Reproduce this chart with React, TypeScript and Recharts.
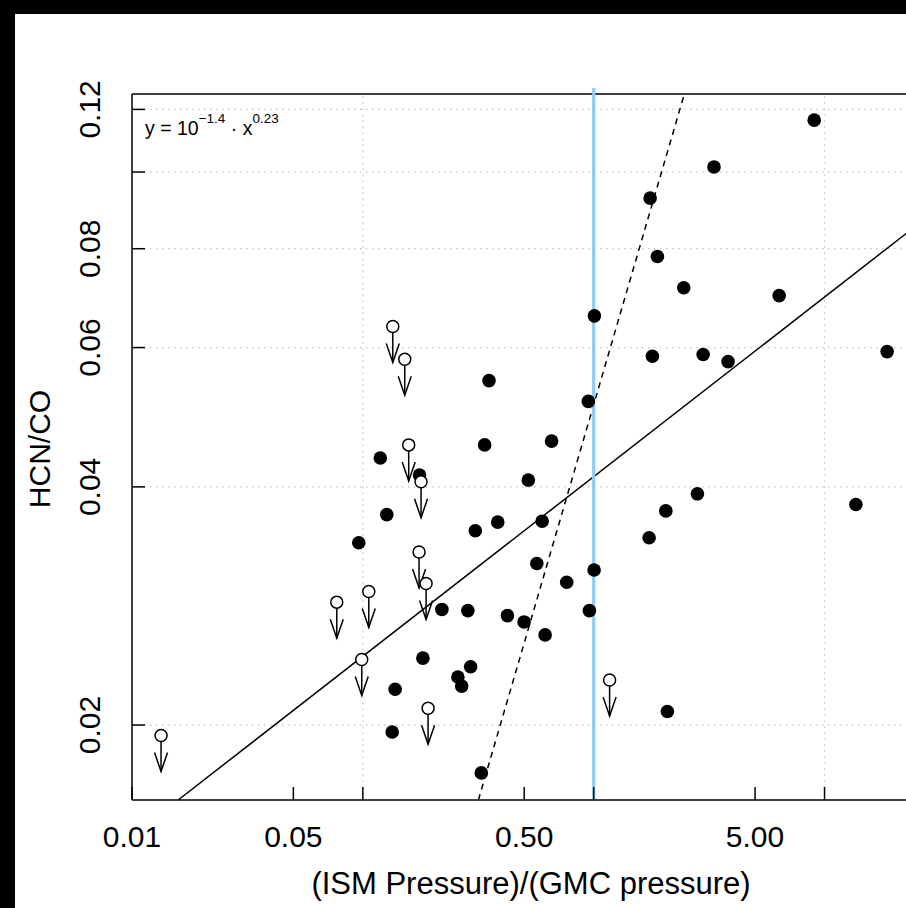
import React from 'react';
import { ScatterChart, Scatter, XAxis, YAxis, ReferenceLine } from 'recharts';

// Detected sources (filled points)
const detectedX = [9.02, 3.32, 1.756, 1.888, 2.455, 6.36, 1.007, 1.796, 2.979, 3.82, 18.67, 0.352, 0.948, 0.657, 0.337, 0.119, 0.176, 0.521, 2.814, 13.67, 0.127, 2.053, 0.384, 0.598, 0.307, 0.096, 1.738, 0.567, 1.004, 0.764, 0.22, 0.285, 0.958, 0.423, 0.4995, 0.616, 0.182, 0.293, 0.258, 0.268, 0.138, 2.086, 0.134, 0.326];
const detectedY = [0.1163, 0.1015, 0.0927, 0.0782, 0.0714, 0.0698, 0.0658, 0.0585, 0.0588, 0.0576, 0.0593, 0.0545, 0.0513, 0.0457, 0.0452, 0.0435, 0.0414, 0.0408, 0.0392, 0.038, 0.0369, 0.0373, 0.0361, 0.0362, 0.0352, 0.034, 0.0345, 0.032, 0.0314, 0.0303, 0.028, 0.0279, 0.0279, 0.0275, 0.027, 0.026, 0.0243, 0.0237, 0.023, 0.0224, 0.0222, 0.0208, 0.0196, 0.0174];

// Upper limits (open circles with arrows)
const limitX = [0.01336, 0.1348, 0.1519, 0.158, 0.1787, 0.1752, 0.1879, 0.0771, 0.1061, 0.0989, 0.1917, 1.172];
const limitY = [0.0194, 0.0638, 0.058, 0.0452, 0.0406, 0.0331, 0.0302, 0.0286, 0.0295, 0.0242, 0.021, 0.0228];

// Fitted power law (solid) and linear relation (dashed)
const fitLine = [
  { x: 0.01585, y: 0.01608 },
  { x: 24.9, y: 0.0855 },
];
const linearLine = [
  { x: 0.3166, y: 0.01608 },
  { x: 2.47, y: 0.1255 },
];

const xDomain = [0.01, 24.9];
const yDomain = [0.01608, 0.1255];
const xTicks = [0.01, 0.05, 0.1, 0.5, 1, 5, 10];
const xLabelled = [0.01, 0.05, 0.5, 5];
const yTicks = [0.02, 0.04, 0.06, 0.08, 0.1, 0.12];
const yLabelled = [0.02, 0.04, 0.06, 0.08, 0.12];
const gridX = [0.1, 1, 10];
const gridY = [0.02, 0.04, 0.06, 0.08, 0.1, 0.12];
const thresholdX = 1;

const detected = detectedX.map((x, i) => ({ x, y: detectedY[i] }));
const limits = limitX.map((x, i) => ({ x, y: limitY[i] }));

const FONT = '"Liberation Sans", Arial, Helvetica, sans-serif';
const TOP_BLACK = 14;
const LEFT_BLACK = 15;

const XTick = (props: any) => {
  const { x, y, payload } = props;
  const v = payload.value;
  const lab = xLabelled.includes(v) ? v.toFixed(2) : '';
  return (
    <g>
      <line x1={x} y1={y} x2={x} y2={y - 13} stroke="#000" strokeWidth={1.5} />
      {lab && (
        <text x={x} y={y + 47} textAnchor="middle" fontSize={30} fontFamily={FONT} fill="#000">
          {lab}
        </text>
      )}
    </g>
  );
};

const YTick = (props: any) => {
  const { x, y, payload } = props;
  const v = payload.value;
  const lab = yLabelled.includes(v) ? v.toFixed(2) : '';
  const tx = x - 32;
  return (
    <g>
      <line x1={x} y1={y} x2={x + 13} y2={y} stroke="#000" strokeWidth={1.5} />
      {lab && (
        <text
          x={tx}
          y={y}
          transform={`rotate(-90 ${tx} ${y})`}
          textAnchor="middle"
          fontSize={30}
          fontFamily={FONT}
          fill="#000"
        >
          {lab}
        </text>
      )}
    </g>
  );
};

const FilledDot = (props: any) => {
  const { cx, cy } = props;
  if (cx == null || cy == null) return <g />;
  return <circle cx={cx} cy={cy} r={6.8} fill="#000" />;
};

const LimitDot = (props: any) => {
  const { cx, cy } = props;
  if (cx == null || cy == null) return <g />;
  return (
    <g>
      <line x1={cx} y1={cy + 6} x2={cx} y2={cy + 36} stroke="#000" strokeWidth={1.5} />
      <polyline
        points={`${cx - 6.5},${cy + 17} ${cx},${cy + 36} ${cx + 6.5},${cy + 17}`}
        fill="none"
        stroke="#000"
        strokeWidth={1.5}
      />
      <circle cx={cx} cy={cy} r={6} fill="#fff" stroke="#000" strokeWidth={1.5} />
    </g>
  );
};

const BlueLine = (props: any) => {
  const { x1, y1, x2, y2 } = props;
  return (
    <line
      x1={x1}
      x2={x2}
      y1={Math.min(y1, y2) - 6}
      y2={Math.max(y1, y2)}
      stroke="#8ECBF5"
      strokeWidth={3.2}
    />
  );
};

export default function App() {
  return (
    <div
      style={{
        position: 'absolute',
        left: 0,
        top: 0,
        width: 906,
        height: 908,
        background: '#000',
        overflow: 'hidden',
      }}
    >
      <div
        style={{
          position: 'absolute',
          left: LEFT_BLACK,
          top: TOP_BLACK,
          width: 906 - LEFT_BLACK,
          height: 908 - TOP_BLACK,
          background: '#fff',
          overflow: 'hidden',
        }}
      >
        <div style={{ position: 'absolute', left: -LEFT_BLACK, top: -TOP_BLACK, width: 940, height: 908 }}>
          <ScatterChart width={940} height={908} margin={{ top: 94, right: 24, bottom: 48, left: 72 }}>
            <XAxis
              type="number"
              dataKey="x"
              scale="log"
              domain={xDomain}
              ticks={xTicks}
              allowDataOverflow
              height={60}
              tickSize={0}
              tickMargin={0}
              tickLine={false}
              axisLine={{ stroke: '#000', strokeWidth: 1.5 }}
              tick={<XTick />}
              interval={0}
            />
            <YAxis
              type="number"
              dataKey="y"
              scale="log"
              domain={yDomain}
              ticks={yTicks}
              allowDataOverflow
              width={60}
              tickSize={0}
              tickMargin={0}
              tickLine={false}
              axisLine={{ stroke: '#000', strokeWidth: 1.5 }}
              tick={<YTick />}
              interval={0}
            />
            {gridX.map((g) => (
              <ReferenceLine key={'gx' + g} x={g} stroke="#c4c4c4" strokeWidth={1.2} strokeDasharray="1.5 4.5" />
            ))}
            {gridY.map((g) => (
              <ReferenceLine key={'gy' + g} y={g} stroke="#c4c4c4" strokeWidth={1.2} strokeDasharray="1.5 4.5" />
            ))}
            <ReferenceLine y={yDomain[1]} stroke="#000" strokeWidth={1.5} />
            <ReferenceLine x={xDomain[1]} stroke="#000" strokeWidth={1.5} />
            <ReferenceLine
              segment={[fitLine[0], fitLine[1]]}
              stroke="#000"
              strokeWidth={1.5}
            />
            <ReferenceLine
              segment={[linearLine[0], linearLine[1]]}
              stroke="#000"
              strokeWidth={1.5}
              strokeDasharray="6 5"
            />
            <Scatter data={detected} shape={<FilledDot />} isAnimationActive={false} />
            <Scatter data={limits} shape={<LimitDot />} isAnimationActive={false} />
            <ReferenceLine x={thresholdX} shape={<BlueLine />} />
          </ScatterChart>
          <svg
            width={940}
            height={908}
            style={{ position: 'absolute', left: 0, top: 0, pointerEvents: 'none' }}
          >
            <text x={145} y={135} fontSize={19.5} fontFamily={FONT} fill="#000">
              y = 10
              <tspan dy={-12} fontSize={13.5}>−1.4</tspan>
              <tspan dy={12} fontSize={19.5}> · x</tspan>
              <tspan dy={-12} fontSize={13.5}>0.23</tspan>
            </text>
            <text
              x={50}
              y={449}
              transform="rotate(-90 50 449)"
              textAnchor="middle"
              fontSize={30}
              fontFamily={FONT}
              fill="#000"
            >
              HCN/CO
            </text>
            <text x={531} y={894} textAnchor="middle" fontSize={31} fontFamily={FONT} fill="#000">
              (ISM Pressure)/(GMC pressure)
            </text>
          </svg>
        </div>
      </div>
    </div>
  );
}
